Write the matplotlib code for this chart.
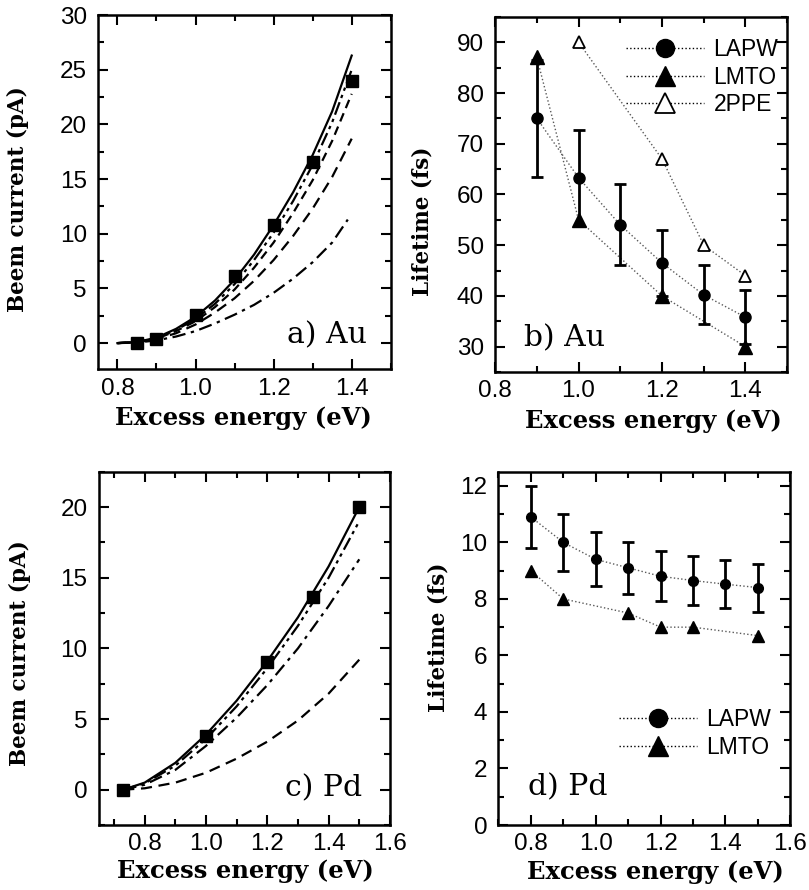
import matplotlib
matplotlib.use("Agg")
import matplotlib.pyplot as plt
from matplotlib.ticker import MultipleLocator, FormatStrFormatter
from matplotlib.lines import Line2D

# Datos panel a) Au - corriente BEEM
a_x_exp = [0.85, 0.9, 1.0, 1.1, 1.2, 1.3, 1.4]
a_y_exp = [0.05, 0.4, 2.6, 6.1, 10.8, 16.6, 24.0]
a_x_fit = [0.80, 0.85, 0.90, 0.95, 1.00, 1.05, 1.10, 1.15, 1.20, 1.25, 1.30, 1.35, 1.40]
a_fit1 = [0, 0.1, 0.5, 1.3, 2.4, 3.9, 5.8, 8.1, 10.8, 13.8, 17.2, 21.2, 26.3]
a_fit2 = [0, 0.1, 0.45, 1.2, 2.2, 3.6, 5.4, 7.6, 10.1, 13.0, 16.3, 20.2, 25.0]
a_fit3 = [0, 0.1, 0.4, 1.1, 2.0, 3.3, 4.9, 6.9, 9.2, 11.9, 14.9, 18.5, 22.8]
a_fit4 = [0, 0.08, 0.35, 0.9, 1.7, 2.8, 4.1, 5.7, 7.6, 9.8, 12.3, 15.2, 18.7]
a_x_fit5 = [0.80, 0.85, 0.90, 0.95, 1.00, 1.05, 1.10, 1.15, 1.20, 1.25, 1.30, 1.35, 1.39]
a_fit5 = [0, 0.05, 0.25, 0.6, 1.1, 1.8, 2.6, 3.5, 4.6, 5.9, 7.4, 9.2, 11.3]

# Datos panel b) Au - tiempos de vida
b_x_lapw = [0.9, 1.0, 1.1, 1.2, 1.3, 1.4]
b_lapw = [75, 63.3, 54, 46.5, 40.2, 35.8]
b_lapw_err = [11.5, 9.5, 8, 6.5, 5.8, 5.3]
b_x_lmto = [0.9, 1.0, 1.2, 1.4]
b_lmto = [87, 55, 40, 30]
b_x_2ppe = [1.0, 1.2, 1.3, 1.4]
b_2ppe = [90, 67, 50, 44]

# Datos panel c) Pd - corriente BEEM
c_x_exp = [0.73, 1.0, 1.2, 1.35, 1.5]
c_y_exp = [0, 3.8, 9.0, 13.6, 20.0]
c_x_fit = [0.73, 0.8, 0.9, 1.0, 1.1, 1.2, 1.3, 1.4, 1.5]
c_fit1 = [0, 0.5, 1.9, 3.9, 6.3, 9.1, 12.2, 15.8, 20.0]
c_fit2 = [0, 0.45, 1.7, 3.6, 5.9, 8.6, 11.6, 15.0, 19.0]
c_fit3 = [0, 0.35, 1.4, 3.1, 5.1, 7.4, 10.0, 13.0, 16.3]
c_fit4 = [0, 0.1, 0.5, 1.2, 2.2, 3.4, 4.9, 6.8, 9.2]

# Datos panel d) Pd - tiempos de vida
d_x_lapw = [0.8, 0.9, 1.0, 1.1, 1.2, 1.3, 1.4, 1.5]
d_lapw = [10.9, 10.0, 9.4, 9.1, 8.8, 8.65, 8.52, 8.4]
d_lapw_err = [1.1, 1.0, 0.95, 0.92, 0.88, 0.87, 0.85, 0.85]
d_x_lmto = [0.8, 0.9, 1.1, 1.2, 1.3, 1.5]
d_lmto = [9.0, 8.0, 7.5, 7.0, 7.0, 6.7]

serif = ['DejaVu Serif']
sans = ['Liberation Sans', 'DejaVu Sans']
plt.rcParams['font.family'] = sans
plt.rcParams['axes.linewidth'] = 1.8

fig = plt.figure(figsize=(8.09, 8.90), dpi=100)
ax_a = fig.add_axes([0.121, 0.585, 0.362, 0.398])
ax_b = fig.add_axes([0.612, 0.582, 0.361, 0.399])
ax_c = fig.add_axes([0.122, 0.073, 0.360, 0.397])
ax_d = fig.add_axes([0.616, 0.073, 0.361, 0.397])


def estilo(ax, xmaj, xmin, ymaj, ymin, xlabel, ylabel, xl_pos, yl_pos):
    ax.xaxis.set_major_locator(MultipleLocator(xmaj))
    ax.xaxis.set_minor_locator(MultipleLocator(xmin))
    ax.yaxis.set_major_locator(MultipleLocator(ymaj))
    ax.yaxis.set_minor_locator(MultipleLocator(ymin))
    ax.xaxis.set_major_formatter(FormatStrFormatter('%.1f'))
    ax.tick_params(which='both', direction='in', top=True, right=True, width=1.5)
    ax.tick_params(which='major', length=7, labelsize=17.5)
    ax.tick_params(which='minor', length=4)
    ax.tick_params(axis='x', which='major', pad=6)
    ax.tick_params(axis='y', which='major', pad=8)
    ax.set_xlabel(xlabel, family=serif, fontsize=17.5, fontweight='bold')
    ax.set_ylabel(ylabel, family=serif, fontsize=15.5, fontweight='bold')
    ax.xaxis.set_label_coords(*xl_pos)
    ax.yaxis.set_label_coords(*yl_pos)
    ax.xaxis.label.set_va('center')
    ax.yaxis.label.set_va('center')


dashdotdot = (0, (6, 2, 1.5, 2, 1.5, 2))
dashdot = (0, (6, 2.5, 1.5, 2.5))
lw = 1.6

# a) Au
ax_a.plot(a_x_fit, a_fit1, '-', color='black', lw=lw)
ax_a.plot(a_x_fit, a_fit2, linestyle=dashdotdot, color='black', lw=lw)
ax_a.plot(a_x_fit, a_fit3, linestyle=(0, (4, 2.5)), color='black', lw=lw)
ax_a.plot(a_x_fit, a_fit4, linestyle=(0, (5, 3)), color='black', lw=lw)
ax_a.plot(a_x_fit5, a_fit5, linestyle=dashdot, color='black', lw=lw)
ax_a.plot(a_x_exp, a_y_exp, 's', color='black', ms=8)
ax_a.set_xlim(0.75, 1.5)
ax_a.set_ylim(-2.4, 30)
estilo(ax_a, 0.2, 0.1, 5, 2.5, 'Excess energy (eV)', 'Beem current (pA)',
       (0.498, -0.136), (-0.273, 0.48))
ax_a.text(0.92, 0.096, 'a) Au', transform=ax_a.transAxes, ha='right', va='center',
          family=serif, fontsize=21.5)

# b) Au
ax_b.plot(b_x_lapw, b_lapw, ':', color='0.35', lw=1)
ax_b.plot(b_x_lmto, b_lmto, ':', color='0.35', lw=1)
ax_b.plot(b_x_2ppe, b_2ppe, ':', color='0.35', lw=1)
ax_b.errorbar(b_x_lapw, b_lapw, yerr=b_lapw_err, fmt='o', color='black', ms=8,
              elinewidth=2, capsize=4, capthick=2)
ax_b.plot(b_x_lmto, b_lmto, '^', color='black', ms=10)
ax_b.plot(b_x_2ppe, b_2ppe, '^', mfc='white', mec='black', mew=1.3, ms=9)
ax_b.set_xlim(0.8, 1.5)
ax_b.set_ylim(25, 95)
estilo(ax_b, 0.2, 0.1, 10, 5, 'Excess energy (eV)', 'Lifetime (fs)',
       (0.541, -0.138), (-0.25, 0.425))
ax_b.text(0.1, 0.096, 'b) Au', transform=ax_b.transAxes, ha='left', va='center',
          family=serif, fontsize=21.5)
h_b = [Line2D([], [], ls=':', color='black', lw=1, marker='o', ms=13, mfc='black', mec='black'),
       Line2D([], [], ls=':', color='black', lw=1, marker='^', ms=14, mfc='black', mec='black'),
       Line2D([], [], ls=':', color='black', lw=1, marker='^', ms=14, mfc='white', mec='black', mew=1.3)]
ax_b.legend(h_b, ['LAPW', 'LMTO', '2PPE'], loc='upper right', bbox_to_anchor=(0.97, 0.94),
            frameon=False, fontsize=16.5, handlelength=3.4, handletextpad=0.4,
            labelspacing=0.2, borderpad=0, borderaxespad=0)

# c) Pd
ax_c.plot(c_x_fit, c_fit1, '-', color='black', lw=lw)
ax_c.plot(c_x_fit, c_fit2, linestyle=dashdotdot, color='black', lw=lw)
ax_c.plot(c_x_fit, c_fit3, linestyle=dashdot, color='black', lw=lw)
ax_c.plot(c_x_fit, c_fit4, linestyle=(0, (5, 3)), color='black', lw=lw)
ax_c.plot(c_x_exp, c_y_exp, 's', color='black', ms=8)
ax_c.set_xlim(0.65, 1.6)
ax_c.set_ylim(-2.5, 22.5)
estilo(ax_c, 0.2, 0.1, 5, 2.5, 'Excess energy (eV)', 'Beem current (pA)',
       (0.502, -0.13), (-0.271, 0.487))
ax_c.text(0.905, 0.105, 'c) Pd', transform=ax_c.transAxes, ha='right', va='center',
          family=serif, fontsize=21.5)

# d) Pd
ax_d.plot(d_x_lapw, d_lapw, ':', color='0.35', lw=1)
ax_d.plot(d_x_lmto, d_lmto, ':', color='0.35', lw=1)
ax_d.errorbar(d_x_lapw, d_lapw, yerr=d_lapw_err, fmt='o', color='black', ms=7,
              elinewidth=2, capsize=4, capthick=2)
ax_d.plot(d_x_lmto, d_lmto, '^', color='black', ms=9)
ax_d.set_xlim(0.7, 1.6)
ax_d.set_ylim(0, 12.5)
estilo(ax_d, 0.2, 0.1, 2, 1, 'Excess energy (eV)', 'Lifetime (fs)',
       (0.538, -0.133), (-0.205, 0.53))
ax_d.text(0.1, 0.108, 'd) Pd', transform=ax_d.transAxes, ha='left', va='center',
          family=serif, fontsize=21.5)
h_d = [Line2D([], [], ls=':', color='black', lw=1, marker='o', ms=13, mfc='black', mec='black'),
       Line2D([], [], ls=':', color='black', lw=1, marker='^', ms=14, mfc='black', mec='black')]
ax_d.legend(h_d, ['LAPW', 'LMTO'], loc='upper right', bbox_to_anchor=(0.935, 0.33),
            frameon=False, fontsize=16.5, handlelength=3.4, handletextpad=0.4,
            labelspacing=0.2, borderpad=0, borderaxespad=0)

fig.savefig('out.png', dpi=100)
